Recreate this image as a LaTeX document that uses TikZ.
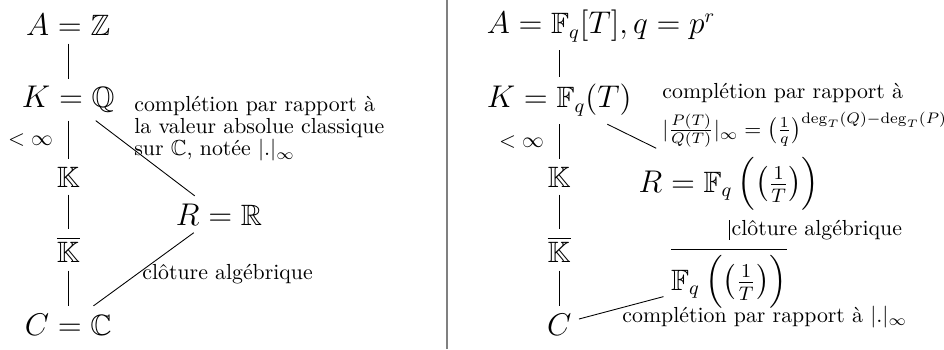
\documentclass[tikz,border=0pt]{standalone}
\usepackage{amsmath,amssymb}

\begin{document}
\begin{tikzpicture}[line width=0.4pt,
  field/.style={font=\fontsize{13.5}{16}\selectfont, anchor=base},
  note/.style={inner sep=0pt, align=left},
  bound/.style={left=3.5pt, inner sep=3.33pt}]

% Frame
\useasboundingbox (0,0) rectangle (15.22,5.627);

% Separator
\draw[gray, line width=0.9pt] (7.207,0) -- (7.207,5.627);

% Left tower: Z, Q, R, C
\node[field] (A) at (1.10,5.047) {$A = \mathbb{Z}$};
\node[field] (K) at (1.10,3.886) {$K = \mathbb{Q}$};
\node[field] (Kbb) at (1.10,2.612) {$\mathbb{K}$};
\node[field] (Kbar) at (1.10,1.387) {$\overline{\mathbb{K}}$};
\node[field] (C) at (1.10,0.226) {$C = \mathbb{C}$};
\node[field] (R) at (3.531,1.999) {$R = \mathbb{R}$};

\draw (A) -- (K);
\draw (K) -- node[bound] {$<\infty$} (Kbb);
\draw (Kbb) -- (Kbar);
\draw (Kbar) -- (C);
\draw (K) -- (R);
\draw (R) -- (C);

% Left labels
\node[note, font=\fontsize{10}{8.5}\selectfont, anchor=north west] (cplQ) at (2.160,4.080)
  {complétion par rapport à\\la valeur absolue classique\\sur $\mathbb{C}$, notée $|.|_\infty$};
\node[note, anchor=base west] (algR) at (2.290,1.113) {clôture algébrique};

% Right tower: F_q[T], F_q(T), F_q((1/T))
\node[field] (A2) at (9.691,5.079) {$A = \mathbb{F}_q[T], q = p^r$};
\node[field] (K2) at (9.015,3.886) {$K = \mathbb{F}_q(T)$};
\node[field] (Kbb2) at (9.015,2.612) {$\mathbb{K}$};
\node[field] (Kbar2) at (9.015,1.387) {$\overline{\mathbb{K}}$};
\node[field] (C2) at (9.015,0.226) {$C$};
\node[field] (R2) at (11.755,2.531) {$R = \mathbb{F}_q\,\Bigl(\bigl(\frac{1}{T}\bigr)\Bigr)$};
\node[field] (Fbar) at (11.755,0.951) {$\overline{\mathbb{F}_q\,\Bigl(\bigl(\frac{1}{T}\bigr)\Bigr)}$};

\draw (K2.north) -- (K2.north |- A2.south);
\draw (K2) -- node[bound] {$<\infty$} (Kbb2);
\draw (Kbb2) -- (Kbar2);
\draw (Kbar2) -- (C2);
\draw (K2) -- (R2);
\draw (R2) -- node[right, inner sep=1pt] {clôture algébrique} (Fbar);
\draw (C2) -- (Fbar);

% Right labels
\node[note, anchor=north west] (cplF) at (10.674,4.289)
  {complétion par rapport à\\[3pt]$|\frac{P(T)}{Q(T)}|_\infty = \bigl(\frac{1}{q}\bigr)^{\deg_T(Q)-\deg_T(P)}$};
\node[note, anchor=base west] (cplC) at (10.029,0.435) {complétion par rapport à $|.|_\infty$};

\end{tikzpicture}
\end{document}
